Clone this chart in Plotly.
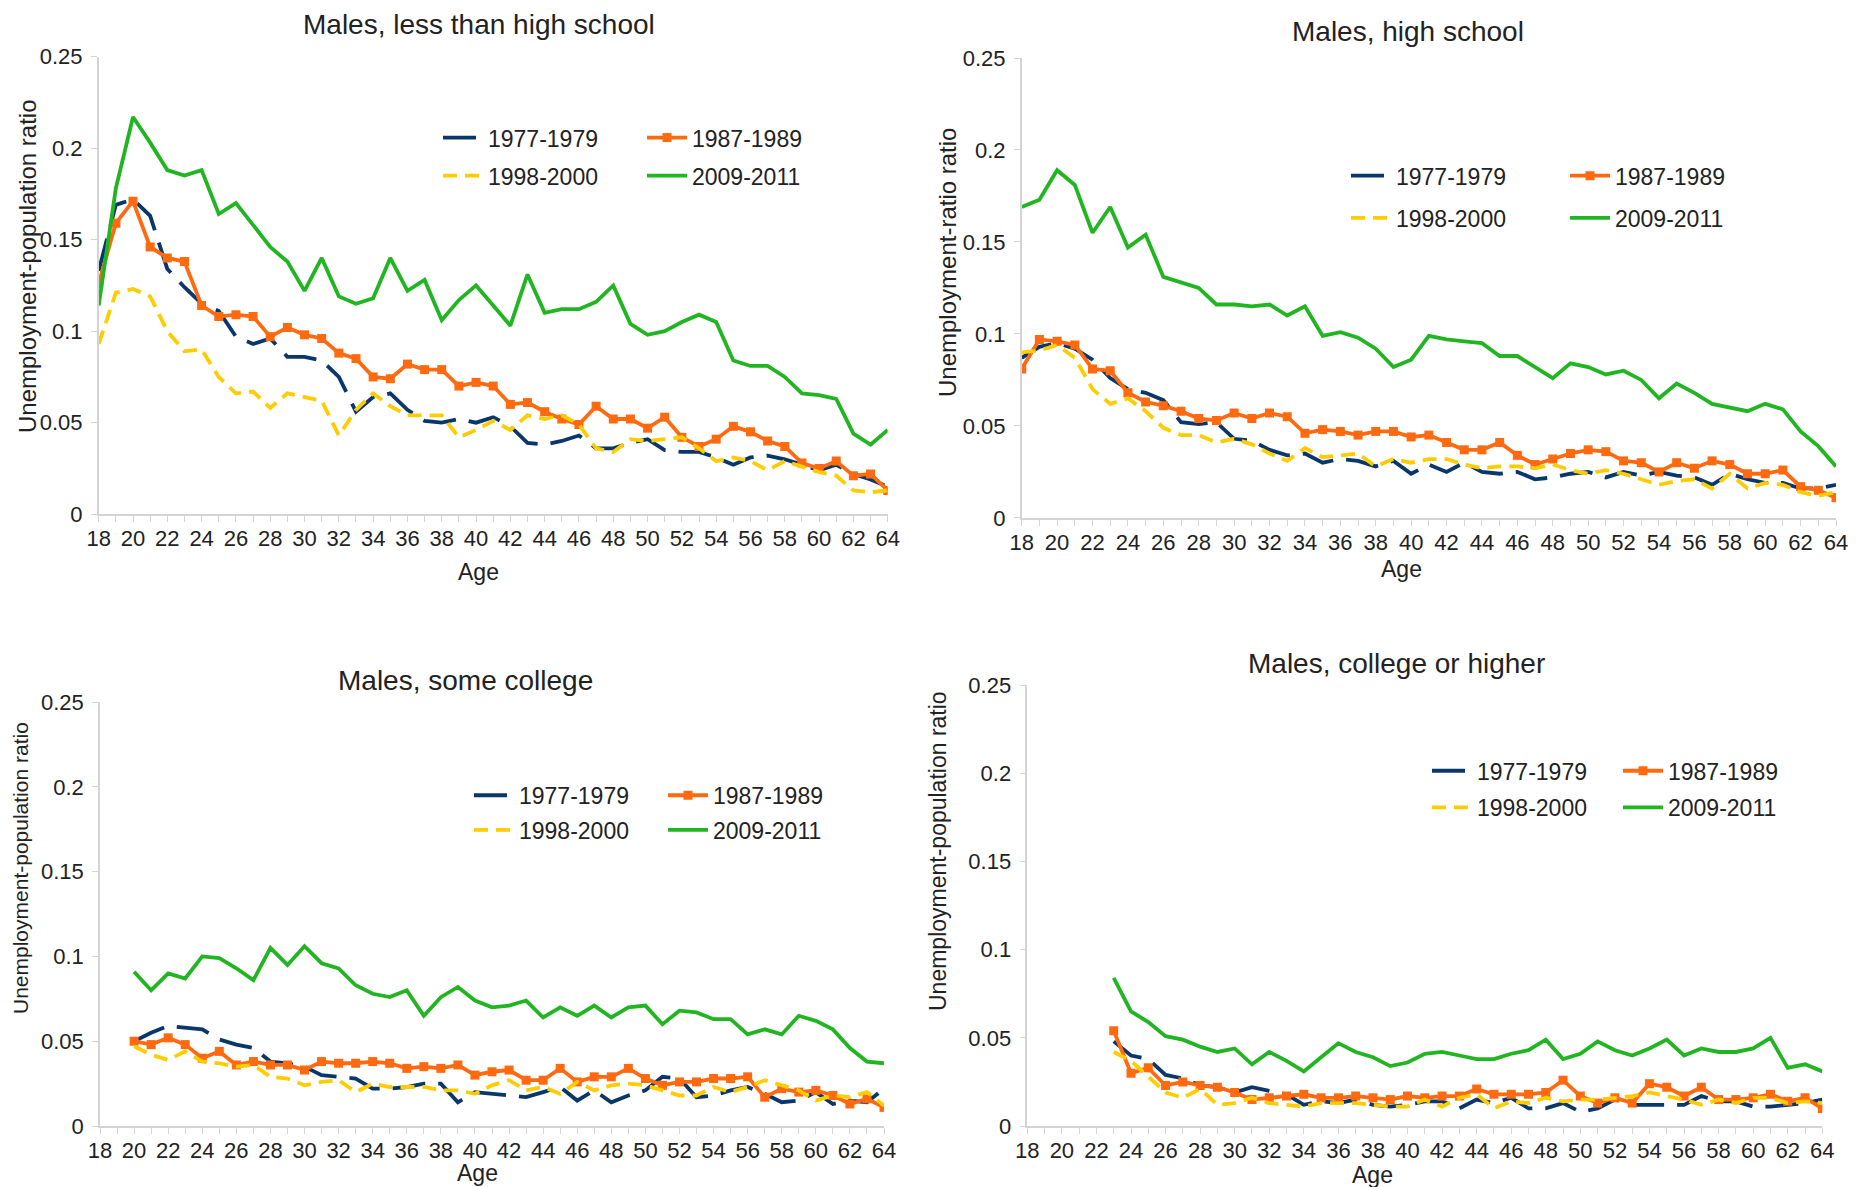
import plotly.graph_objects as go

# ---- data ----
ages_all = list(range(18, 65))
ages_sc = list(range(20, 65))
ages_col = list(range(23, 65))

periods = ["1977-1979", "1987-1989", "1998-2000", "2009-2011"]

# Males, less than high school
lths_7779 = [0.133, 0.169, 0.172, 0.163, 0.134, 0.124, 0.115, 0.111, 0.097, 0.093, 0.096, 0.086, 0.086, 0.084, 0.075, 0.056,
             0.064, 0.066, 0.057, 0.051, 0.050, 0.052, 0.050, 0.053, 0.048, 0.039, 0.038, 0.040, 0.043, 0.036, 0.036, 0.039,
             0.041, 0.035, 0.034, 0.034, 0.031, 0.027, 0.031, 0.032, 0.030, 0.027, 0.024, 0.027, 0.022, 0.019, 0.015]
lths_8789 = [0.126, 0.159, 0.171, 0.146, 0.140, 0.138, 0.114, 0.108, 0.109, 0.108, 0.097, 0.102, 0.098, 0.096, 0.088, 0.085,
             0.075, 0.074, 0.082, 0.079, 0.079, 0.070, 0.072, 0.070, 0.060, 0.061, 0.056, 0.052, 0.049, 0.059, 0.052, 0.052,
             0.047, 0.053, 0.042, 0.037, 0.041, 0.048, 0.045, 0.040, 0.037, 0.028, 0.025, 0.029, 0.021, 0.022, 0.013]
lths_9800 = [0.093, 0.121, 0.123, 0.119, 0.100, 0.089, 0.090, 0.075, 0.066, 0.067, 0.058, 0.066, 0.064, 0.062, 0.043, 0.057,
             0.066, 0.059, 0.054, 0.054, 0.054, 0.042, 0.046, 0.051, 0.046, 0.054, 0.052, 0.054, 0.049, 0.036, 0.034, 0.041,
             0.040, 0.041, 0.042, 0.036, 0.029, 0.031, 0.029, 0.024, 0.029, 0.026, 0.023, 0.021, 0.013, 0.012, 0.013]
lths_0911 = [0.114, 0.178, 0.217, 0.203, 0.188, 0.185, 0.188, 0.164, 0.170, 0.158, 0.146, 0.138, 0.122, 0.140, 0.119, 0.115,
             0.118, 0.140, 0.122, 0.128, 0.106, 0.117, 0.125, 0.114, 0.103, 0.131, 0.110, 0.112, 0.112, 0.116, 0.125, 0.104,
             0.098, 0.100, 0.105, 0.109, 0.105, 0.084, 0.081, 0.081, 0.075, 0.066, 0.065, 0.063, 0.044, 0.038, 0.046]

# Males, high school
hs_7779 = [0.087, 0.093, 0.095, 0.092, 0.086, 0.076, 0.070, 0.068, 0.064, 0.052, 0.051, 0.052, 0.043, 0.042, 0.037, 0.034,
           0.035, 0.030, 0.032, 0.031, 0.028, 0.031, 0.024, 0.029, 0.025, 0.030, 0.025, 0.024, 0.025, 0.021, 0.022, 0.024,
           0.025, 0.022, 0.025, 0.023, 0.025, 0.023, 0.022, 0.018, 0.024, 0.021, 0.019, 0.019, 0.016, 0.016, 0.018]
hs_8789 = [0.081, 0.097, 0.096, 0.094, 0.081, 0.080, 0.068, 0.063, 0.061, 0.058, 0.054, 0.053, 0.057, 0.054, 0.057, 0.055,
           0.046, 0.048, 0.047, 0.045, 0.047, 0.047, 0.044, 0.045, 0.041, 0.037, 0.037, 0.041, 0.034, 0.029, 0.032, 0.035,
           0.037, 0.036, 0.031, 0.030, 0.025, 0.030, 0.027, 0.031, 0.029, 0.024, 0.024, 0.026, 0.017, 0.015, 0.011]
hs_9800 = [0.090, 0.091, 0.094, 0.087, 0.070, 0.062, 0.065, 0.058, 0.049, 0.045, 0.045, 0.041, 0.043, 0.040, 0.035, 0.031,
           0.038, 0.033, 0.034, 0.035, 0.028, 0.032, 0.030, 0.032, 0.032, 0.029, 0.027, 0.028, 0.028, 0.027, 0.029, 0.026,
           0.024, 0.026, 0.024, 0.021, 0.018, 0.020, 0.021, 0.016, 0.024, 0.016, 0.019, 0.018, 0.014, 0.012, 0.014]
hs_0911 = [0.169, 0.173, 0.189, 0.181, 0.155, 0.169, 0.147, 0.154, 0.131, 0.128, 0.125, 0.116, 0.116, 0.115, 0.116, 0.110,
           0.115, 0.099, 0.101, 0.098, 0.092, 0.082, 0.086, 0.099, 0.097, 0.096, 0.095, 0.088, 0.088, 0.082, 0.076, 0.084,
           0.082, 0.078, 0.080, 0.075, 0.065, 0.073, 0.068, 0.062, 0.060, 0.058, 0.062, 0.059, 0.047, 0.039, 0.028]

# Males, some college (ages 20-64)
sc_7779 = [0.050, 0.055, 0.059, 0.058, 0.057, 0.051, 0.048, 0.046, 0.038, 0.037, 0.035, 0.030, 0.029, 0.028, 0.022, 0.022,
           0.023, 0.025, 0.025, 0.014, 0.020, 0.019, 0.018, 0.017, 0.020, 0.023, 0.015, 0.021, 0.014, 0.018, 0.021, 0.029,
           0.028, 0.017, 0.018, 0.021, 0.023, 0.019, 0.014, 0.015, 0.020, 0.013, 0.015, 0.014, 0.022]
sc_8789 = [0.050, 0.048, 0.052, 0.048, 0.040, 0.044, 0.036, 0.038, 0.036, 0.036, 0.033, 0.038, 0.037, 0.037, 0.038, 0.037,
           0.034, 0.035, 0.034, 0.036, 0.030, 0.032, 0.033, 0.027, 0.027, 0.034, 0.026, 0.029, 0.029, 0.034, 0.028, 0.024,
           0.026, 0.026, 0.028, 0.028, 0.029, 0.017, 0.022, 0.020, 0.021, 0.018, 0.013, 0.016, 0.011]
sc_9800 = [0.047, 0.042, 0.039, 0.044, 0.038, 0.037, 0.035, 0.036, 0.029, 0.028, 0.024, 0.026, 0.027, 0.020, 0.025, 0.023,
           0.023, 0.023, 0.021, 0.021, 0.019, 0.024, 0.027, 0.021, 0.023, 0.019, 0.026, 0.021, 0.024, 0.025, 0.024, 0.021,
           0.018, 0.018, 0.023, 0.020, 0.023, 0.027, 0.024, 0.021, 0.015, 0.018, 0.017, 0.020, 0.012]
sc_0911 = [0.091, 0.080, 0.090, 0.087, 0.100, 0.099, 0.093, 0.086, 0.105, 0.095, 0.106, 0.096, 0.093, 0.083, 0.078, 0.076,
           0.080, 0.065, 0.076, 0.082, 0.074, 0.070, 0.071, 0.074, 0.064, 0.070, 0.065, 0.071, 0.064, 0.070, 0.071, 0.060,
           0.068, 0.067, 0.063, 0.063, 0.054, 0.057, 0.054, 0.065, 0.062, 0.057, 0.046, 0.038, 0.037]

# Males, college or higher (ages 23-64)
col_7779 = [0.048, 0.040, 0.038, 0.029, 0.027, 0.023, 0.022, 0.019, 0.022, 0.020, 0.018, 0.012, 0.014, 0.013, 0.015, 0.012,
            0.011, 0.012, 0.014, 0.014, 0.010, 0.015, 0.013, 0.016, 0.010, 0.010, 0.013, 0.008, 0.010, 0.015, 0.012, 0.012,
            0.012, 0.012, 0.017, 0.014, 0.014, 0.011, 0.011, 0.012, 0.013, 0.015]
col_8789 = [0.054, 0.030, 0.033, 0.023, 0.025, 0.023, 0.022, 0.019, 0.015, 0.016, 0.017, 0.018, 0.016, 0.016, 0.017, 0.016,
            0.015, 0.017, 0.016, 0.017, 0.017, 0.021, 0.018, 0.018, 0.018, 0.019, 0.026, 0.017, 0.013, 0.016, 0.013, 0.024,
            0.022, 0.017, 0.022, 0.015, 0.015, 0.016, 0.018, 0.014, 0.016, 0.010]
col_9800 = [0.042, 0.037, 0.028, 0.019, 0.016, 0.021, 0.012, 0.013, 0.016, 0.013, 0.012, 0.011, 0.013, 0.013, 0.013, 0.012,
            0.011, 0.011, 0.015, 0.011, 0.016, 0.018, 0.010, 0.014, 0.013, 0.016, 0.014, 0.015, 0.015, 0.016, 0.017, 0.019,
            0.017, 0.015, 0.012, 0.015, 0.013, 0.016, 0.016, 0.013, 0.014, 0.013]
col_0911 = [0.084, 0.065, 0.059, 0.051, 0.049, 0.045, 0.042, 0.044, 0.035, 0.042, 0.037, 0.031, 0.039, 0.047, 0.042, 0.039,
            0.034, 0.036, 0.041, 0.042, 0.040, 0.038, 0.038, 0.041, 0.043, 0.049, 0.038, 0.041, 0.048, 0.043, 0.040, 0.044,
            0.049, 0.040, 0.044, 0.042, 0.042, 0.044, 0.050, 0.033, 0.035, 0.031]

panel_titles = ["Males, less than high school", "Males, high school", "Males, some college", "Males, college or higher"]
ytitles = ["Unemployment-population ratio", "Unemployment-ratio ratio",
           "Unemployment-population ratio", "Unemployment-population ratio"]

panels = [
    (ages_all, [lths_7779, lths_8789, lths_9800, lths_0911]),
    (ages_all, [hs_7779, hs_8789, hs_9800, hs_0911]),
    (ages_sc, [sc_7779, sc_8789, sc_9800, sc_0911]),
    (ages_col, [col_7779, col_8789, col_9800, col_0911]),
]

# ---- look ----
PAGE_W, PAGE_H = 1866, 1187
OFF = 8  # default body margin of the html page
W, H = PAGE_W - 2 * OFF, PAGE_H - OFF
FONT = "Liberation Sans, Arial, sans-serif"
TXT = "#222222"
AXC = "#D4D4D4"
colors = ["#0A376B", "#FF6A10", "#FFCC00", "#22B522"]
dashes = ["33px,13px", "solid", "14px,8px", "solid"]

# plot boxes in page pixels: left, right, top, bottom
boxes = [(98.7, 887.7, 56.6, 514.2),
         (1021.7, 1836.0, 58.0, 517.9),
         (100.0, 884.0, 702.1, 1126.0),
         (1027.3, 1822.3, 685.4, 1126.0)]
# title (x, y), y-title (x, y, size), Age (x, y)
title_pos = [(479, 25), (1408, 31), (465, 680), (1396, 663)]
ytitle_pos = [(27, 266, 24), (947, 263, 24), (20, 868, 21), (938, 851, 23)]
age_pos = [(478, 572), (1401, 569), (477, 1173), (1372, 1175)]
# legend: item start x, row1 y, row2 y, spacing
legend_pos = [(438, 137.6, 175.7, 204), (1346, 175.7, 218, 219),
              (469, 795.3, 830, 194), (1427, 770.8, 807.5, 191)]


def px(x):
    return (x - OFF) / W


def py(y):
    return 1 - (y - OFF) / H


fig = go.Figure()
layout = dict(width=W, height=H, margin=dict(l=0, r=0, t=0, b=0, autoexpand=False),
              paper_bgcolor="white", plot_bgcolor="white",
              font=dict(family=FONT, color=TXT), showlegend=True)
annotations = []

for p, (ages, series) in enumerate(panels):
    n = "" if p == 0 else str(p + 1)
    l, r, t, b = boxes[p]
    layout["xaxis" + n] = dict(
        domain=[px(l), px(r)], anchor="y" + n, range=[18, 64], automargin=False,
        tick0=18, dtick=2, ticks="outside", ticklen=6, tickcolor=AXC,
        minor=dict(dtick=1, ticks="outside", ticklen=6, tickcolor=AXC),
        showline=True, linecolor=AXC, linewidth=1.5, showgrid=False, zeroline=False,
        tickfont=dict(size=22, color=TXT), ticklabelstandoff=-2)
    layout["yaxis" + n] = dict(
        domain=[py(b), py(t)], anchor="x" + n, range=[0, 0.25], automargin=False,
        tickvals=[0, 0.05, 0.1, 0.15, 0.2, 0.25],
        ticktext=["0", "0.05", "0.1", "0.15", "0.2", "0.25"],
        ticks="outside", ticklen=6, tickcolor=AXC,
        showline=True, linecolor=AXC, linewidth=1.5, showgrid=False, zeroline=False,
        tickfont=dict(size=22, color=TXT), ticklabelstandoff=4)

    lx, r1, r2, step = legend_pos[p]
    for k in range(4):
        leg_id = 2 * p + (k // 2) + 1
        leg = "legend" if leg_id == 1 else "legend" + str(leg_id)
        fig.add_trace(go.Scatter(
            x=ages, y=series[k], name=periods[k],
            xaxis="x" + n, yaxis="y" + n, legend=leg,
            mode="lines+markers" if k == 1 else "lines",
            line=dict(color=colors[k], width=3.8, dash=dashes[k]),
            marker=dict(symbol="square", size=9, color=colors[k]),
            hoverinfo="x+y+name"))
    for row, ry in enumerate([r1, r2]):
        leg_id = 2 * p + row + 1
        leg = "legend" if leg_id == 1 else "legend" + str(leg_id)
        layout[leg] = dict(
            orientation="h", x=px(lx), y=py(ry), xanchor="left", yanchor="middle",
            bgcolor="rgba(0,0,0,0)", borderwidth=0, itemwidth=40,
            entrywidth=step - 55, entrywidthmode="pixels",
            font=dict(size=23, color=TXT, family=FONT), itemclick=False)

    tx, ty = title_pos[p]
    annotations.append(dict(text=panel_titles[p], x=px(tx), y=py(ty), xref="paper", yref="paper",
                            xanchor="center", yanchor="middle", showarrow=False,
                            font=dict(size=28, color=TXT)))
    yx, yy, ys = ytitle_pos[p]
    annotations.append(dict(text=ytitles[p], x=px(yx), y=py(yy), xref="paper", yref="paper",
                            xanchor="center", yanchor="middle", showarrow=False, textangle=-90,
                            font=dict(size=ys, color=TXT)))
    ax, ay = age_pos[p]
    annotations.append(dict(text="Age", x=px(ax), y=py(ay), xref="paper", yref="paper",
                            xanchor="center", yanchor="middle", showarrow=False,
                            font=dict(size=23, color=TXT)))

layout["annotations"] = annotations
fig.update_layout(**layout)

fig.write_html("out.html")
